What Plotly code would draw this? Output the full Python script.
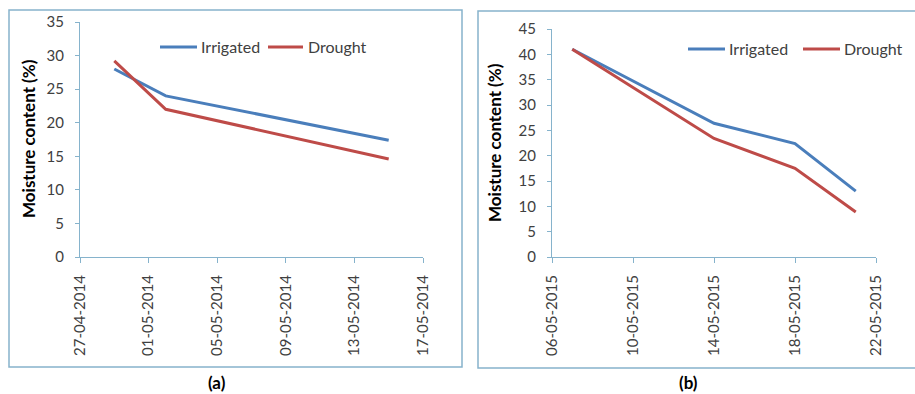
import plotly.graph_objects as go

W, H = 915, 394

# Panel (a) data – 2014
dates_a = ["2014-04-29", "2014-05-02", "2014-05-15"]
irrigated_a = [28.0, 24.0, 17.4]
drought_a = [29.2, 22.0, 14.6]

# Panel (b) data – 2015
dates_b = ["2015-05-07", "2015-05-14", "2015-05-18", "2015-05-21"]
irrigated_b = [41.0, 26.4, 22.4, 13.0]
drought_b = [41.0, 23.4, 17.5, 8.9]

series_names = ["Irrigated", "Drought"]
colors = ["#4A7EBB", "#BE4B48"]
y_title = "Moisture content (%)"
panel_labels = ["(a)", "(b)"]

FONT = "Lato, 'Open Sans', sans-serif"
TXT = "#404040"
AX = "#86B3CC"

def px(x):
    return x / W

def py(y):
    return 1 - y / H

fig = go.Figure()
for name, col, ys in zip(series_names, colors, [irrigated_a, drought_a]):
    fig.add_trace(go.Scatter(x=dates_a, y=ys, mode="lines", name=name,
                             line=dict(color=col, width=3), xaxis="x", yaxis="y",
                             showlegend=False, hoverinfo="skip"))
for name, col, ys in zip(series_names, colors, [irrigated_b, drought_b]):
    fig.add_trace(go.Scatter(x=dates_b, y=ys, mode="lines", name=name,
                             line=dict(color=col, width=3), xaxis="x2", yaxis="y2",
                             showlegend=False, hoverinfo="skip"))

DAY4 = 4 * 86400000
xcommon = dict(type="date", tickformat="%d-%m-%Y", dtick=DAY4, tickangle=-90,
               showgrid=False, zeroline=False, showline=True, linecolor=AX, linewidth=1.3,
               ticks="outside", ticklen=5, tickcolor=AX, automargin=False, ticklabelstandoff=6,
               tickfont=dict(family=FONT, size=15, color=TXT), fixedrange=True)
ycommon = dict(showgrid=False, zeroline=False, showline=True, linecolor=AX, linewidth=1.3,
               ticks="outside", ticklen=4, tickcolor=AX, dtick=5, automargin=False,
               ticklabelstandoff=8,
               tickfont=dict(family=FONT, size=15, color=TXT), fixedrange=True)

fig.update_layout(
    width=W, height=H,
    margin=dict(l=0, r=0, t=0, b=0),
    paper_bgcolor="white", plot_bgcolor="white",
    xaxis=dict(xcommon, domain=[px(80), px(423)], range=["2014-04-27", "2014-05-17"],
               tick0="2014-04-27", anchor="y"),
    yaxis=dict(ycommon, domain=[py(257), py(22)], range=[0, 35], anchor="x"),
    xaxis2=dict(xcommon, domain=[px(552), px(876)], range=["2015-05-06", "2015-05-22"],
                tick0="2015-05-06", anchor="y2"),
    yaxis2=dict(ycommon, domain=[py(257), py(29)], range=[0, 45], anchor="x2"),
    showlegend=False,
)

shapes = [
    dict(type="rect", xref="paper", yref="paper", x0=px(9), x1=px(462), y0=py(367), y1=py(10),
         line=dict(color=AX, width=1.5)),
    dict(type="rect", xref="paper", yref="paper", x0=px(478), x1=px(918), y0=py(368), y1=py(11),
         line=dict(color=AX, width=1.5)),
]
annotations = []

# Custom legends
legend_specs = [
    (47, [(160, 197, 199), (268, 303, 306)]),
    (49, [(688, 725, 727), (803, 840, 842)]),
]
for ly, items in legend_specs:
    for (x0, x1, tx), name, col in zip(items, series_names, colors):
        shapes.append(dict(type="line", xref="paper", yref="paper", x0=px(x0), x1=px(x1),
                           y0=py(ly), y1=py(ly), line=dict(color=col, width=3)))
        annotations.append(dict(xref="paper", yref="paper", x=px(tx), y=py(ly), text=name,
                                showarrow=False, xanchor="left", yanchor="middle",
                                font=dict(family=FONT, size=16, color=TXT)))

# Y titles
for xt, yt in [(28, 139), (495, 143)]:
    annotations.append(dict(xref="paper", yref="paper", x=px(xt), y=py(yt), text="<b>" + y_title + "</b>",
                            textangle=-90, showarrow=False, xanchor="center", yanchor="middle",
                            font=dict(family=FONT, size=17, color="black")))

# Panel labels
for lab, xt in zip(panel_labels, [217, 688]):
    annotations.append(dict(xref="paper", yref="paper", x=px(xt), y=py(382), text="<b>" + lab + "</b>",
                            showarrow=False, xanchor="center", yanchor="middle",
                            font=dict(family=FONT, size=17, color="black")))

fig.update_layout(shapes=shapes, annotations=annotations)
fig.write_html("out.html", config={"displayModeBar": False},
               post_script="document.body.style.margin='0px';")
